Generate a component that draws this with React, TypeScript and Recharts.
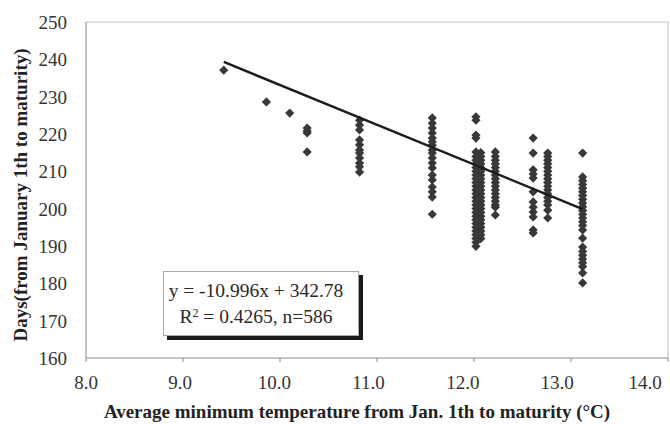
import React from 'react';
import { ScatterChart, Scatter, XAxis, YAxis, ReferenceLine } from 'recharts';

// axis ticks
const xTicks = [8, 9, 10, 11, 12, 13, 14];
const yTicks = [160, 170, 180, 190, 200, 210, 220, 230, 240, 250];

// days to maturity, one array per temperature column
const days942 = [237.1];
const days986 = [228.6];
const days1010 = [225.6];
const days1028 = [221.6, 220.8, 220.3, 215.2];
const days1082 = [223.7, 222.4, 221.1, 218.4, 217.1, 215.7, 214.9, 213.6, 212.2, 211.2, 209.8];
const days1157 = [224.3, 222.9, 221.6, 220.3, 218.9, 217.9, 217, 215.7, 214.9, 213.6, 212.2, 210.9, 209, 207.7, 205.8, 204.5, 203.1, 198.5];
const days1202 = [224.6, 223.7, 219.7, 218.9, 215.2, 214, 213, 212, 211, 210, 209, 208, 207, 206, 205, 204, 203, 202, 201, 200, 199, 198, 197, 196, 195, 194, 193, 192, 191, 189.9];
const days1207 = [215, 214, 213, 212, 211, 210, 209, 208, 207, 206, 205, 204, 203, 202, 201, 200, 199, 198, 197, 196, 195, 194, 193, 192];
const days1222 = [215.2, 214, 213, 212, 211, 210, 209, 208, 207, 206, 205, 204, 203, 202, 201, 200.4, 198.3];
const days1261 = [218.9, 214.9, 210.4, 209.3, 208.2, 204.5, 201.8, 200.4, 199.1, 197.8, 194.3, 193.5];
const days1276 = [214.9, 214, 213, 212, 211, 210, 209, 208, 207, 206, 205, 204, 203, 202, 201, 199.6, 197.5];
const days1312 = [214.9, 208.5, 207.5, 206.5, 205.5, 204.5, 203.5, 202.5, 201.5, 200.5, 199.5, 198.5, 197.5, 196.5, 195.5, 194.3, 192.1, 189.7, 188.5, 187.5, 186.5, 185.5, 184.5, 182.8, 180.1];

const columns: [number, number[]][] = [
  [9.42, days942],
  [9.86, days986],
  [10.1, days1010],
  [10.28, days1028],
  [10.82, days1082],
  [11.57, days1157],
  [12.02, days1202],
  [12.07, days1207],
  [12.22, days1222],
  [12.61, days1261],
  [12.76, days1276],
  [13.12, days1312],
];

const points = columns.flatMap(([t, ds]) => ds.map((d) => ({ t, d })));

// trend line end points
const fitT = [9.42, 13.12];
const fitD = [239.3, 199.9];
const fitLine = fitT.map((t, i) => ({ t, d: fitD[i] }));

const serif = '"Liberation Serif", "DejaVu Serif", serif';

const Diamond = (props: any) => {
  const { cx, cy } = props;
  if (cx == null || cy == null) return <g />;
  const r = 4.6;
  return (
    <polygon
      points={`${cx},${cy - r} ${cx + r},${cy} ${cx},${cy + r} ${cx - r},${cy}`}
      fill="#383838"
    />
  );
};

const XTick = ({ x, y, payload }: any) => {
  const v = payload.value;
  // labels on the scan drift a little left of their tick marks
  const shift = -(v - 8) * 2.8;
  return (
    <text x={x + shift} y={y + 25} textAnchor="middle" fontFamily={serif} fontSize={19} fill="#333">
      {v.toFixed(1)}
    </text>
  );
};

const YTick = ({ x, y, payload }: any) => (
  <text x={x} y={y + 7} textAnchor="end" fontFamily={serif} fontSize={19} fill="#333">
    {payload.value}
  </text>
);

export default function App() {
  return (
    <div style={{ position: 'absolute', left: 0, top: 0, width: 670, height: 430, background: '#fff' }}>
      <ScatterChart width={670} height={430} margin={{ top: 22, right: 2, bottom: 0, left: 0 }}>
        <XAxis
          type="number"
          dataKey="t"
          domain={[8, 14]}
          ticks={xTicks}
          allowDataOverflow
          height={72}
          stroke="#8a8a8a"
          tickSize={4}
          tickMargin={2}
          tick={<XTick />}
        />
        <YAxis
          type="number"
          dataKey="d"
          domain={[160, 250]}
          ticks={yTicks}
          allowDataOverflow
          width={86}
          stroke="#8a8a8a"
          tickLine={false}
          tickSize={0}
          tickMargin={19}
          tick={<YTick />}
        />
        <ReferenceLine y={250} stroke="#c4c4c4" />
        <ReferenceLine x={14} stroke="#c4c4c4" />
        <Scatter data={points} shape={<Diamond />} isAnimationActive={false} />
        <Scatter
          data={fitLine}
          line={{ stroke: '#1c1c1c', strokeWidth: 2.4 }}
          shape={() => <g />}
          isAnimationActive={false}
        />
      </ScatterChart>

      <svg width={670} height={430} style={{ position: 'absolute', left: 0, top: 0, pointerEvents: 'none' }}>
        <text
          transform="translate(27,195) rotate(-90)"
          textAnchor="middle"
          fontFamily={serif}
          fontWeight="bold"
          fontSize={19}
          fill="#222"
        >
          Days(from January 1th to maturity)
        </text>
        <text x={357} y={418} textAnchor="middle" fontFamily={serif} fontWeight="bold" fontSize={19} fill="#222">
          Average minimum temperature from Jan. 1th to maturity (°C)
        </text>
      </svg>

      <div
        style={{
          position: 'absolute',
          left: 163,
          top: 271,
          width: 196,
          height: 65,
          boxSizing: 'border-box',
          border: '1px solid #aaa',
          boxShadow: '4px 4px 0 #1a1a1a',
          background: '#fff',
          fontFamily: serif,
          fontSize: 19.5,
          color: '#2a2a2a',
          textAlign: 'center',
          paddingTop: 6,
          paddingRight: 10,
          lineHeight: '26px',
        }}
      >
        <div style={{ whiteSpace: 'nowrap' }}>y = -10.996x + 342.78</div>
        <div style={{ whiteSpace: 'nowrap' }}>
          R<sup style={{ fontSize: 12, verticalAlign: 'top', lineHeight: '18px' }}>2</sup> = 0.4265, n=586
        </div>
      </div>
    </div>
  );
}
